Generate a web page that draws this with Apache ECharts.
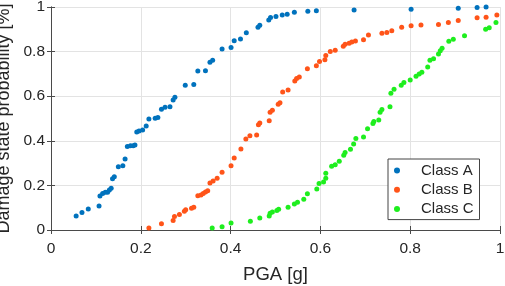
<!DOCTYPE html>
<html>
<head>
<meta charset="utf-8">
<script src="https://cdn.jsdelivr.net/npm/echarts@6/dist/echarts.min.js"></script>
<style>
  html, body { margin: 0; padding: 0; background: #fff; }
  #main { width: 505px; height: 286px; }
</style>
</head>
<body>
<div id="main"></div>
<script>
// [PGA, probability] pairs
const classA = [
  [0.056, 0.063], [0.069, 0.079], [0.083, 0.094], [0.107, 0.108], [0.109, 0.152], [0.115, 0.164],
  [0.121, 0.169], [0.126, 0.169], [0.130, 0.179], [0.134, 0.187], [0.137, 0.230], [0.141, 0.239],
  [0.150, 0.284], [0.160, 0.288], [0.165, 0.318], [0.170, 0.374], [0.177, 0.378], [0.183, 0.378],
  [0.187, 0.381], [0.191, 0.439], [0.196, 0.444], [0.204, 0.448], [0.212, 0.466], [0.218, 0.498],
  [0.232, 0.501], [0.238, 0.504], [0.246, 0.541], [0.254, 0.550], [0.265, 0.553], [0.272, 0.583],
  [0.276, 0.595], [0.299, 0.649], [0.318, 0.652], [0.327, 0.713], [0.344, 0.714], [0.354, 0.752],
  [0.360, 0.761], [0.381, 0.812], [0.401, 0.818], [0.408, 0.849], [0.422, 0.857], [0.435, 0.884],
  [0.461, 0.909], [0.465, 0.918], [0.485, 0.942], [0.489, 0.953], [0.501, 0.957], [0.515, 0.964],
  [0.526, 0.967], [0.542, 0.976], [0.572, 0.981], [0.591, 0.983], [0.675, 0.987], [0.802, 0.990],
  [0.907, 0.994], [0.949, 0.998], [0.969, 1.0]
];
const classB = [
  [0.218, 0.009], [0.246, 0.028], [0.272, 0.043], [0.275, 0.060], [0.286, 0.070], [0.297, 0.084],
  [0.300, 0.091], [0.313, 0.097], [0.318, 0.102], [0.327, 0.154], [0.334, 0.157], [0.339, 0.164],
  [0.344, 0.170], [0.349, 0.176], [0.354, 0.211], [0.361, 0.220], [0.370, 0.232], [0.381, 0.259],
  [0.401, 0.288], [0.408, 0.323], [0.423, 0.363], [0.434, 0.408], [0.443, 0.423], [0.458, 0.426],
  [0.462, 0.472], [0.465, 0.480], [0.486, 0.490], [0.488, 0.528], [0.493, 0.537], [0.506, 0.564],
  [0.510, 0.571], [0.516, 0.619], [0.528, 0.628], [0.543, 0.668], [0.547, 0.679], [0.553, 0.686],
  [0.571, 0.723], [0.591, 0.737], [0.598, 0.756], [0.610, 0.763], [0.612, 0.782], [0.622, 0.800],
  [0.633, 0.806], [0.651, 0.824], [0.655, 0.833], [0.664, 0.837], [0.670, 0.843], [0.678, 0.848],
  [0.696, 0.853], [0.707, 0.875], [0.737, 0.882], [0.748, 0.886], [0.759, 0.894], [0.781, 0.909],
  [0.802, 0.916], [0.824, 0.919], [0.863, 0.921], [0.885, 0.930], [0.907, 0.940], [0.949, 0.952],
  [0.969, 0.954], [0.993, 0.964]
];
const classC = [
  [0.359, 0.009], [0.381, 0.015], [0.401, 0.031], [0.444, 0.039], [0.465, 0.054], [0.486, 0.063],
  [0.488, 0.075], [0.493, 0.081], [0.503, 0.087], [0.507, 0.093], [0.528, 0.102], [0.542, 0.117],
  [0.549, 0.125], [0.563, 0.138], [0.571, 0.163], [0.592, 0.184], [0.597, 0.208], [0.607, 0.215],
  [0.612, 0.232], [0.612, 0.254], [0.625, 0.286], [0.633, 0.293], [0.642, 0.308], [0.652, 0.335],
  [0.655, 0.348], [0.667, 0.362], [0.674, 0.386], [0.679, 0.410], [0.696, 0.417], [0.705, 0.454],
  [0.717, 0.478], [0.719, 0.486], [0.730, 0.493], [0.733, 0.528], [0.737, 0.540], [0.755, 0.553],
  [0.757, 0.613], [0.764, 0.631], [0.780, 0.649], [0.786, 0.661], [0.800, 0.673], [0.813, 0.689],
  [0.820, 0.700], [0.826, 0.707], [0.839, 0.731], [0.844, 0.761], [0.852, 0.768], [0.863, 0.789],
  [0.867, 0.804], [0.871, 0.815], [0.886, 0.846], [0.896, 0.855], [0.921, 0.871], [0.968, 0.900],
  [0.976, 0.907], [0.991, 0.930]
];
const seriesNames = ['Class A', 'Class B', 'Class C'];
const seriesColors = ['#0072BD', '#FF5419', '#1EEE1E'];

const chart = echarts.init(document.getElementById('main'), null, { renderer: 'canvas' });

const FONT = 'Liberation Sans, Arial, sans-serif';
const axisColor = '#4a4a4a';
const textColor = '#262626';

// box axes on top / right, MATLAB style
const boxAxis = {
  min: 0, max: 1, interval: 0.2,
  axisLine: { show: true, lineStyle: { color: axisColor, width: 1 } },
  axisTick: { show: true, inside: true, length: 4, lineStyle: { color: axisColor } },
  axisLabel: { show: false },
  splitLine: { show: false }
};

const option = {
  animation: false,
  backgroundColor: '#fff',
  grid: { left: 51, right: 5, top: 7, bottom: 56, containLabel: false, outerBoundsMode: 'none' },
  xAxis: [
    {
      type: 'value', min: 0, max: 1, interval: 0.2, position: 'bottom',
      name: 'PGA [g]', nameLocation: 'middle', nameGap: 35,
      nameTextStyle: { fontFamily: FONT, fontSize: 18.5, color: textColor },
      axisLine: { show: true, onZero: false, lineStyle: { color: axisColor, width: 1 } },
      axisTick: { show: true, inside: true, length: 4, lineStyle: { color: axisColor } },
      axisLabel: { fontFamily: FONT, fontSize: 15.5, color: textColor, margin: 11 },
      splitLine: { show: true, lineStyle: { color: '#e3e3e3', width: 1 } }
    },
    Object.assign({ type: 'value', position: 'top' }, boxAxis)
  ],
  yAxis: [
    {
      type: 'value', min: 0, max: 1, interval: 0.2, position: 'left',
      name: 'Damage state probability [%]', nameLocation: 'middle', nameGap: 34,
      nameTextStyle: { fontFamily: FONT, fontSize: 18, color: textColor },
      axisLine: { show: true, onZero: false, lineStyle: { color: axisColor, width: 1 } },
      axisTick: { show: true, inside: true, length: 4, lineStyle: { color: axisColor } },
      axisLabel: { fontFamily: FONT, fontSize: 15.5, color: textColor, margin: 6 },
      splitLine: { show: true, lineStyle: { color: '#e3e3e3', width: 1 } }
    },
    Object.assign({ type: 'value', position: 'right' }, boxAxis)
  ],
  legend: {
    orient: 'vertical',
    left: 388, top: 159,
    padding: [4, 6, 3, 6],
    itemGap: 4.3,
    itemWidth: 38, itemHeight: 6,
    icon: 'circle',
    backgroundColor: '#fff',
    borderColor: '#444',
    borderWidth: 1,
    textStyle: { fontFamily: FONT, fontSize: 15, color: textColor },
    data: seriesNames
  },
  series: [classA, classB, classC].map((d, i) => ({
    name: seriesNames[i],
    type: 'scatter',
    xAxisIndex: 0, yAxisIndex: 0,
    symbol: 'circle',
    symbolSize: 5,
    itemStyle: { color: seriesColors[i], opacity: 1 },
    data: d
  }))
};

chart.setOption(option);
</script>
</body>
</html>
